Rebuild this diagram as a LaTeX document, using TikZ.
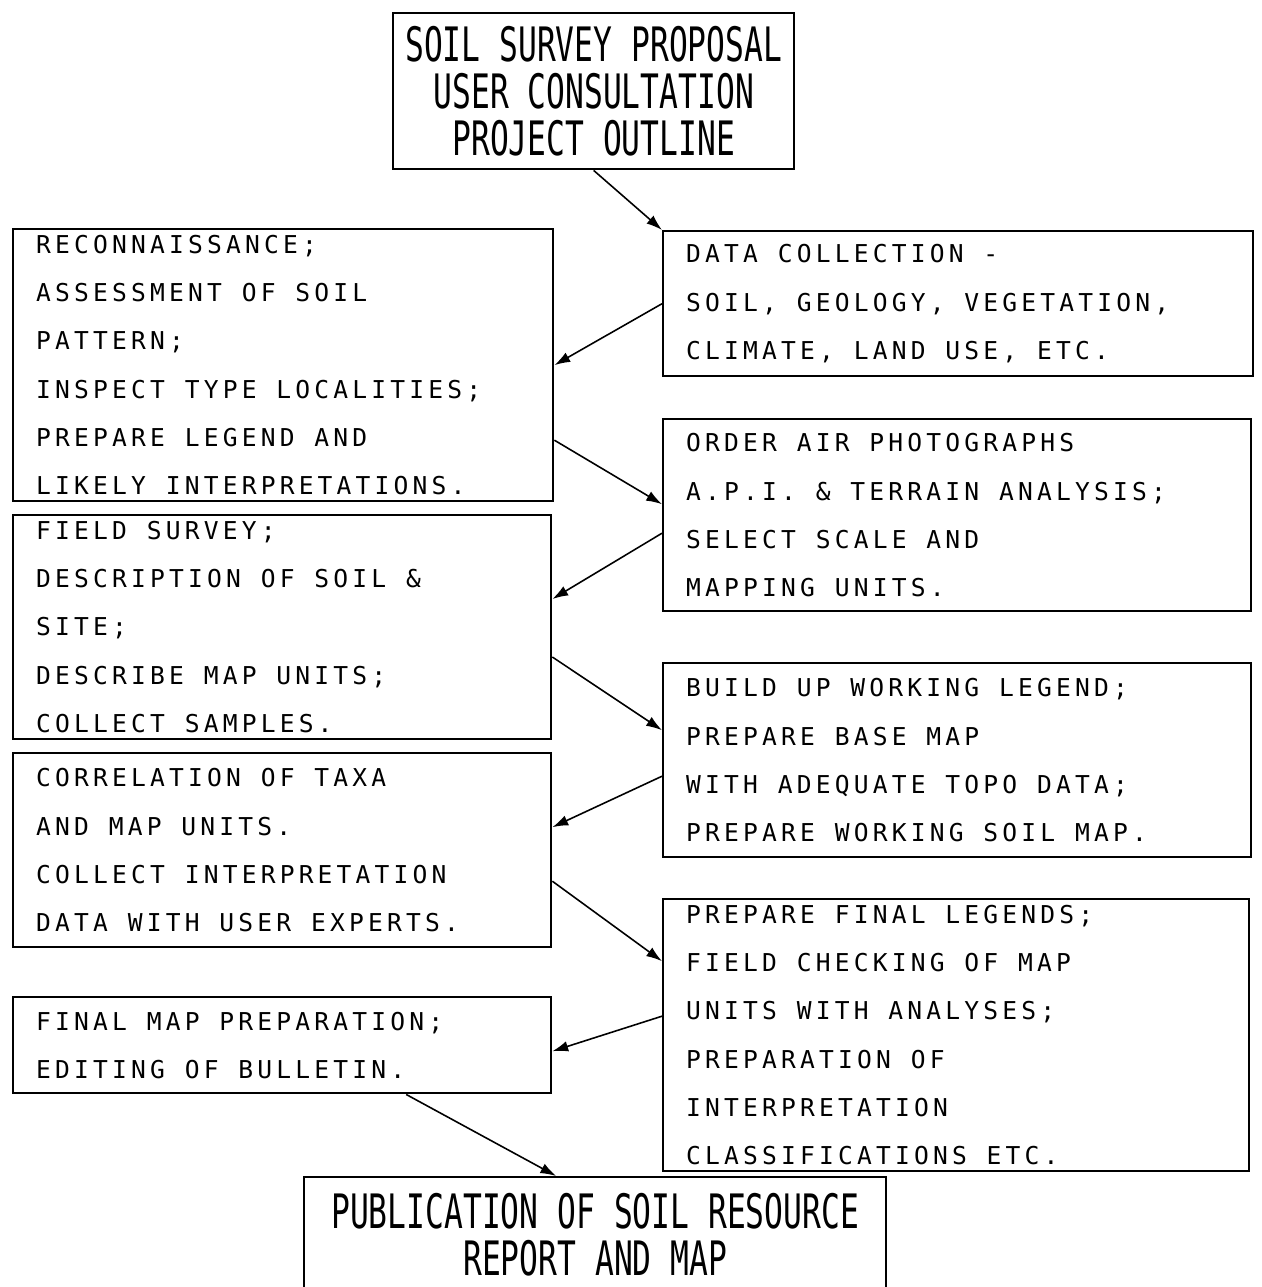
\documentclass[tikz,border=0pt]{standalone}
\usepackage{fontspec}
\usetikzlibrary{arrows.meta,calc}
\newfontfamily\boxfont[LetterSpace=17]{DejaVu Sans Mono}
\newfontfamily\narrowfont[FakeStretch=0.66]{DejaVu Sans Mono}
\newcommand\boxtext{\boxfont\fontsize{14}{27.5}\selectfont\spaceskip=11.3pt\relax}

\begin{document}
\begin{tikzpicture}[x=0.02cm, y=-0.02cm,
  box/.style={draw, line width=1.4pt, anchor=north west, align=flush left, inner xsep=0.46cm,
    font=\boxtext},
  endbox/.style={draw, line width=1.4pt, anchor=north west, align=center, inner xsep=2pt,
    font=\narrowfont\fontsize{27}{26.8}\selectfont},
  flow/.style={-{Latex[length=9pt,width=6pt]}, line width=0.9pt}]
  \useasboundingbox (0,0) rectangle (1261,1287);

  % Cajas
  \node[endbox, minimum width=8.02cm, minimum height=3.12cm] (A) at (392,12)
    {SOIL SURVEY PROPOSAL\\USER CONSULTATION\\PROJECT OUTLINE};
  \node[box, text width=10.88cm, minimum height=2.9cm] (B) at (662,230)
    {DATA COLLECTION -\\SOIL, GEOLOGY, VEGETATION,\\CLIMATE, LAND USE, ETC.};
  \node[box, text width=9.88cm, minimum height=4.88cm] (C) at (12,228)
    {RECONNAISSANCE;\\ASSESSMENT OF SOIL PATTERN;\\INSPECT TYPE LOCALITIES;\\PREPARE LEGEND AND\\LIKELY INTERPRETATIONS.};
  \node[box, text width=10.84cm, minimum height=3.84cm] (D) at (662,418)
    {ORDER AIR PHOTOGRAPHS\\A.P.I. \& TERRAIN ANALYSIS;\\SELECT SCALE AND\\MAPPING UNITS.};
  \node[box, text width=9.84cm, minimum height=3.84cm] (E) at (12,514)
    {FIELD SURVEY;\\DESCRIPTION OF SOIL \& SITE;\\DESCRIBE MAP UNITS;\\COLLECT SAMPLES.};
  \node[box, text width=10.84cm, minimum height=3.88cm] (F) at (662,662)
    {BUILD UP WORKING LEGEND;\\PREPARE BASE MAP\\WITH ADEQUATE TOPO DATA;\\PREPARE WORKING SOIL MAP.};
  \node[box, text width=9.84cm, minimum height=3.88cm] (G) at (12,752)
    {CORRELATION OF TAXA\\AND MAP UNITS.\\COLLECT INTERPRETATION\\DATA WITH USER EXPERTS.};
  \node[box, text width=10.8cm, minimum height=4.84cm] (H) at (662,898)
    {PREPARE FINAL LEGENDS;\\FIELD CHECKING OF MAP\\UNITS WITH ANALYSES;\\PREPARATION OF INTERPRETATION\\CLASSIFICATIONS ETC.};
  \node[box, text width=9.84cm, minimum height=1.92cm] (I) at (12,996)
    {FINAL MAP PREPARATION;\\EDITING OF BULLETIN.};
  \node[endbox, minimum width=11.64cm, minimum height=2.3cm] (J) at (303,1176)
    {PUBLICATION OF SOIL RESOURCE\\REPORT AND MAP};

  \draw[flow] (A.south) -- (B.north west);
  \draw[flow] (B.west) -- (C.east);
  \draw[flow] ($(C.east)+(0,75)$) -- ($(D.west)+(0,-11)$);
  \draw[flow] ($(D.west)+(0,18)$) -- ($(E.east)+(0,-28)$);
  \draw[flow] ($(E.east)+(0,30)$) -- ($(F.west)+(0,-30)$);
  \draw[flow] ($(F.west)+(0,16)$) -- ($(G.east)+(0,-23)$);
  \draw[flow] ($(G.east)+(0,31)$) -- ($(H.west)+(0,-74)$);
  \draw[flow] ($(H.west)+(0,-19)$) -- ($(I.east)+(0,6)$);
  \draw[flow] ($(I.south)+(124,0)$) -- ($(J.north)+(-39,0)$);
\end{tikzpicture}
\end{document}
